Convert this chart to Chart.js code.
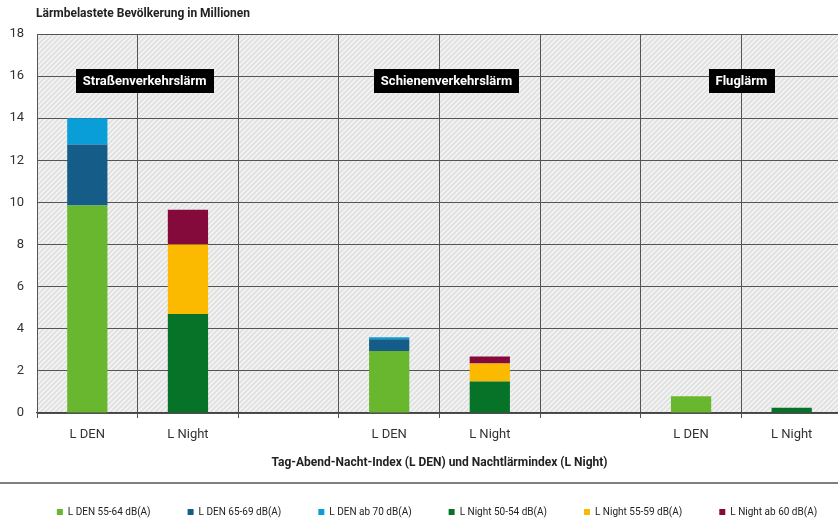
<!DOCTYPE html>
<html>
<head>
<meta charset="utf-8">
<script src="https://cdn.jsdelivr.net/npm/chart.js@4/dist/chart.umd.min.js"></script>
<style>
html,body{margin:0;padding:0;background:#fff;overflow:hidden;}
#wrap{width:842px;height:519px;}
</style>
</head>
<body>
<div id="wrap"><canvas id="c" width="842" height="519"></canvas></div>
<script>
const categories = ['L DEN', 'L Night', '', 'L DEN', 'L Night', '', 'L DEN', 'L Night'];
const yTicks = [0, 2, 4, 6, 8, 10, 12, 14, 16, 18];
const denLow   = [9.85, null, null, 2.95, null, null, 0.8, null];
const denMid   = [2.9,  null, null, 0.55, null, null, 0,   null];
const denHigh  = [1.25, null, null, 0.1,  null, null, 0,   null];
const nightLow = [null, 4.7,  null, null, 1.5,  null, null, 0.25];
const nightMid = [null, 3.3,  null, null, 0.85, null, null, 0];
const nightHigh= [null, 1.65, null, null, 0.33, null, null, 0];
const seriesNames = ['L DEN 55-64 dB(A)', 'L DEN 65-69 dB(A)', 'L DEN ab 70 dB(A)', 'L Night 50-54 dB(A)', 'L Night 55-59 dB(A)', 'L Night ab 60 dB(A)'];
const groupLabels = ['Straßenverkehrslärm', 'Schienenverkehrslärm', 'Fluglärm'];
const chartTitle = 'Lärmbelastete Bevölkerung in Millionen';
const xTitle = 'Tag-Abend-Nacht-Index (L DEN) und Nachtlärmindex (L Night)';

const colors = ['#69b72f', '#155d88', '#0a9ed8', '#067329', '#fbba00', '#830a3b'];
const seriesData = [denLow, denMid, denHigh, nightLow, nightMid, nightHigh];

const FONT = 'Roboto, "Liberation Sans", sans-serif';

// hatch pattern
const pc = document.createElement('canvas');
pc.width = 5; pc.height = 5;
const pctx = pc.getContext('2d');
pctx.fillStyle = '#e2e2e2';
pctx.fillRect(0, 0, 5, 5);
pctx.strokeStyle = '#fafafa';
pctx.lineWidth = 1.2;
pctx.beginPath();
pctx.moveTo(-1, 6); pctx.lineTo(6, -1);
pctx.moveTo(-1, 1); pctx.lineTo(1, -1);
pctx.moveTo(4, 6); pctx.lineTo(6, 4);
pctx.stroke();

const decor = {
  id: 'decor',
  afterLayout(chart) {
    if (chart.legend) {
      chart.legend.left += 16;
      chart.legend.right += 16;
    }
  },
  beforeDraw(chart) {
    const {ctx, chartArea: a} = chart;
    ctx.save();
    ctx.fillStyle = ctx.createPattern(pc, 'repeat');
    ctx.fillRect(a.left, a.top, a.right - a.left, a.bottom - a.top);
    ctx.restore();
  },
  afterDatasetsDraw(chart) {
    const {ctx, scales: {x, y}} = chart;
    const anchors = [0.57, 3.57, 6.5];
    ctx.save();
    ctx.font = 'bold 13px ' + FONT;
    ctx.textBaseline = 'middle';
    ctx.textAlign = 'center';
    groupLabels.forEach((t, i) => {
      const cx = x.getPixelForValue(anchors[i]);
      const cy = y.getPixelForValue(15.76);
      const w = ctx.measureText(t).width + 14;
      ctx.fillStyle = '#000';
      ctx.fillRect(Math.round(cx - w / 2), Math.round(cy - 12), Math.round(w), 24);
      ctx.fillStyle = '#fff';
      ctx.fillText(t, cx, cy + 1);
    });
    ctx.restore();
  },
  afterDraw(chart) {
    const {ctx, width} = chart;
    ctx.save();
    ctx.fillStyle = '#222';
    ctx.font = 'bold 12px ' + FONT;
    ctx.textBaseline = 'middle';
    ctx.textAlign = 'left';
    ctx.fillText(chartTitle, 36, 14);
    ctx.strokeStyle = '#555';
    ctx.lineWidth = 1.5;
    ctx.beginPath();
    ctx.moveTo(0, 483); ctx.lineTo(width, 483);
    ctx.stroke();
    ctx.restore();
  }
};

new Chart(document.getElementById('c'), {
  type: 'bar',
  data: {
    labels: categories,
    datasets: seriesNames.map((n, i) => ({
      label: n,
      data: seriesData[i],
      backgroundColor: colors[i],
      borderWidth: 0,
      stack: 's',
      barPercentage: 0.4,
      categoryPercentage: 1.0
    }))
  },
  options: {
    responsive: false,
    animation: false,
    devicePixelRatio: 1,
    layout: {padding: {top: 34, left: 0, right: 0, bottom: 0}},
    plugins: {
      title: {display: false},
      tooltip: {enabled: false},
      legend: {
        display: true,
        position: 'bottom',
        maxHeight: 49,
        labels: {
          boxWidth: 6,
          boxHeight: 6,
          padding: 37,
          color: '#222',
          font: {size: 10, family: FONT}
        }
      }
    },
    scales: {
      x: {
        stacked: true,
        grid: {color: '#555', lineWidth: 1, offset: true, tickLength: 5, drawTicks: true},
        border: {color: '#444', width: 1.2},
        ticks: {color: '#333', padding: 9, font: {size: 13, family: FONT}, maxRotation: 0},
        title: {
          display: true,
          text: xTitle,
          color: '#222',
          font: {size: 12, weight: 'bold', family: FONT},
          padding: {top: 4, bottom: 0}
        }
      },
      y: {
        stacked: true,
        min: 0,
        max: 18,
        afterBuildTicks(s) { s.ticks = yTicks.map(v => ({value: v})); },
        afterFit(s) { s.width = 37; },
        grid: {color: '#555', lineWidth: 1, drawTicks: false},
        border: {color: '#555', width: 1},
        ticks: {color: '#333', padding: 13, font: {size: 13, family: FONT}}
      }
    }
  },
  plugins: [decor]
});
</script>
</body>
</html>
